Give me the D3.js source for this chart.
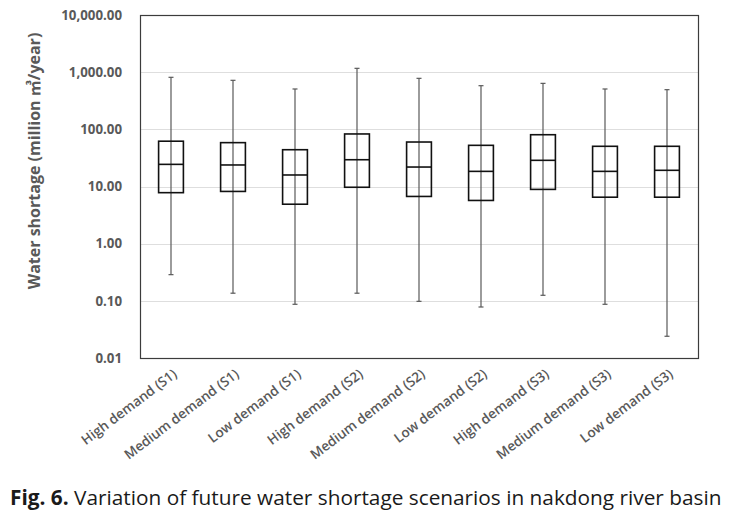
<!DOCTYPE html>
<html>
<head>
<meta charset="utf-8">
<script src="https://cdn.jsdelivr.net/npm/d3@7"></script>
<style>
  html, body { margin: 0; padding: 0; background: #fff; }
  svg { display: block; }
</style>
</head>
<body>
<svg id="chart" width="730" height="515"></svg>
<script>
// ---- data (million m3/year) ----
const categories = ["High demand (S1)", "Medium demand (S1)", "Low demand (S1)",
                    "High demand (S2)", "Medium demand (S2)", "Low demand (S2)",
                    "High demand (S3)", "Medium demand (S3)", "Low demand (S3)"];
const maxValues    = [813, 720, 508, 1167, 780, 580, 637, 508, 494];
const q3Values     = [62, 58.5, 44, 83, 60, 52.5, 80.5, 50.5, 50.5];
const medianValues = [24.4, 23.8, 15.9, 29.4, 21.9, 18.4, 28.7, 18.4, 19.2];
const q1Values     = [7.8, 8.2, 4.9, 9.7, 6.7, 5.7, 8.9, 6.5, 6.5];
const minValues    = [0.287, 0.136, 0.087, 0.136, 0.098, 0.078, 0.125, 0.087, 0.024];
const yTicks = [0.01, 0.1, 1, 10, 100, 1000, 10000];
const yTitle = "Water shortage (million \u33A5/year)";
const captionBold = "Fig. 6.";
const captionText = " Variation of future water shortage scenarios in nakdong river basin";

const rows = categories.map((c, i) => ({
  cat: c, max: maxValues[i], q3: q3Values[i], med: medianValues[i], q1: q1Values[i], min: minValues[i]
}));

const svg = d3.select("#chart");
const plot = { left: 140, right: 698, top: 15, bottom: 358 };

const x = d3.scaleBand().domain(categories)
  .range([plot.left, plot.right]).paddingInner(0.6).paddingOuter(0.3);
const y = d3.scaleLog().domain([0.01, 10000]).range([plot.bottom, plot.top]);

// gridlines
svg.append("g").selectAll("line").data(yTicks.slice(1, -1)).join("line")
  .attr("x1", plot.left).attr("x2", plot.right)
  .attr("y1", d => Math.round(y(d)) + 0.5).attr("y2", d => Math.round(y(d)) + 0.5)
  .attr("stroke", "#dedede").attr("stroke-width", 1);

// frame
svg.append("rect")
  .attr("x", plot.left + 0.5).attr("y", plot.top + 0.5)
  .attr("width", plot.right - plot.left).attr("height", plot.bottom - plot.top)
  .attr("fill", "none").attr("stroke", "#3c3c3c").attr("stroke-width", 1.2);

// y axis labels
const yAxis = d3.axisLeft(y).tickValues(yTicks).tickFormat(d3.format(",.2f")).tickSize(0).tickPadding(18);
const gy = svg.append("g").attr("transform", `translate(${plot.left},0)`).call(yAxis);
gy.select(".domain").remove();
gy.selectAll("text")
  .attr("font-family", "'Open Sans', 'Noto Sans', sans-serif")
  .attr("font-weight", "bold").attr("font-size", 13.3).attr("fill", "#595959");

// x axis labels
const xAxis = d3.axisBottom(x).tickSize(0).tickPadding(0);
const gx = svg.append("g").attr("transform", `translate(0,${plot.bottom})`).call(xAxis);
gx.select(".domain").remove();
gx.selectAll("text")
  .attr("font-family", "'Open Sans', 'Noto Sans', sans-serif")
  .attr("font-weight", 600).attr("font-size", 13.6).attr("fill", "#595959")
  .attr("text-anchor", "end")
  .attr("dy", null).attr("y", 0)
  .attr("transform", "translate(7,18) rotate(-37)");

// boxes
const bw = x.bandwidth();
const g = svg.append("g").selectAll("g").data(rows).join("g")
  .attr("transform", d => `translate(${x(d.cat)},0)`);

g.append("line")
  .attr("x1", bw / 2).attr("x2", bw / 2)
  .attr("y1", d => y(d.max)).attr("y2", d => y(d.min))
  .attr("stroke", "#595959").attr("stroke-width", 1.2);
g.append("line")
  .attr("x1", bw / 2 - 2.5).attr("x2", bw / 2 + 2.5)
  .attr("y1", d => y(d.max)).attr("y2", d => y(d.max))
  .attr("stroke", "#595959").attr("stroke-width", 1.2);
g.append("line")
  .attr("x1", bw / 2 - 2.5).attr("x2", bw / 2 + 2.5)
  .attr("y1", d => y(d.min)).attr("y2", d => y(d.min))
  .attr("stroke", "#595959").attr("stroke-width", 1.2);
g.append("rect")
  .attr("x", 0).attr("width", bw)
  .attr("y", d => y(d.q3)).attr("height", d => y(d.q1) - y(d.q3))
  .attr("fill", "none").attr("stroke", "#111").attr("stroke-width", 1.6);
g.append("line")
  .attr("x1", 0).attr("x2", bw)
  .attr("y1", d => y(d.med)).attr("y2", d => y(d.med))
  .attr("stroke", "#111").attr("stroke-width", 1.6);

// y title
const yt = svg.append("text")
  .attr("transform", "translate(40,161) rotate(-90)")
  .attr("text-anchor", "middle")
  .attr("font-family", "'Open Sans', 'Noto Sans', 'Noto Sans CJK KR', sans-serif")
  .attr("font-weight", "bold").attr("font-size", 16).attr("fill", "#595959")
  .text(yTitle);

// caption
const cap = svg.append("text")
  .attr("x", 10).attr("y", 505)
  .attr("font-family", "'Open Sans', 'Noto Sans', sans-serif")
  .attr("font-size", 20).attr("fill", "#1a1a1a");
cap.append("tspan").attr("font-weight", "bold").text(captionBold);
cap.append("tspan").text(captionText);
// fit caption width to ~712px
const cw = cap.node().getComputedTextLength();
cap.attr("font-size", 20 * 712 / cw);
</script>
</body>
</html>
